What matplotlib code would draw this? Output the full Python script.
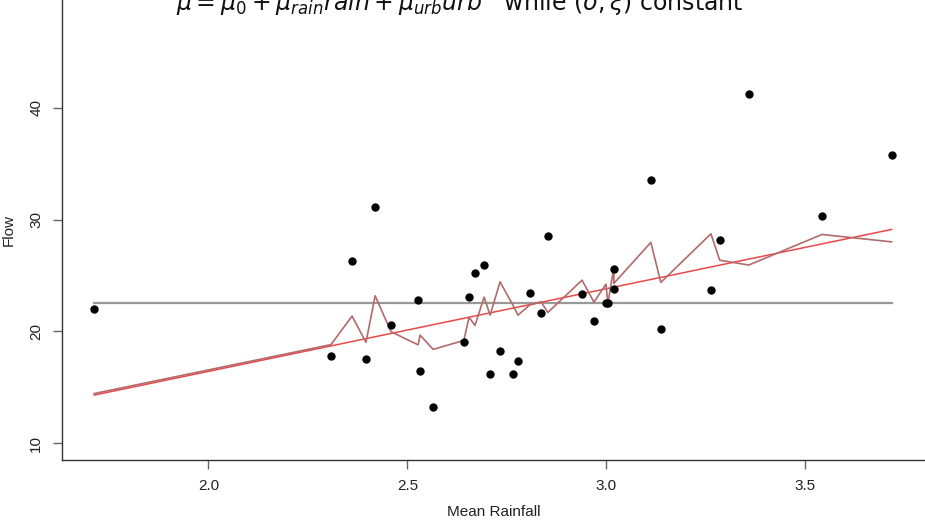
import numpy as np
import matplotlib
matplotlib.use("Agg")
from matplotlib import pyplot as plt

# mean rainfall (sorted) and observed flow
rain = [1.713, 2.308, 2.361, 2.396, 2.419, 2.459, 2.527, 2.532, 2.565, 2.642, 2.655,
        2.670, 2.693, 2.708, 2.733, 2.766, 2.778, 2.808, 2.836, 2.853, 2.939, 2.969,
        2.999, 3.004, 3.019, 3.019, 3.112, 3.137, 3.263, 3.285, 3.358, 3.542, 3.717]
flow = [22.0, 17.79, 26.29, 17.52, 31.13, 20.56, 22.80, 16.45, 13.22, 19.04, 23.07,
        25.22, 25.94, 16.18, 18.24, 16.18, 17.34, 23.43, 21.64, 28.53, 23.34, 20.92,
        22.53, 22.53, 25.58, 23.79, 33.54, 20.21, 23.70, 28.17, 41.24, 30.32, 35.78]

# location fitted with rain + urb, evaluated at each observation
mu_full = [14.43, 18.81, 21.36, 19.01, 23.18, 19.96, 18.79, 19.66, 18.38, 19.19, 21.25,
           20.53, 23.06, 21.45, 24.43, 22.3, 21.45, 22.37, 22.64, 21.69, 24.58, 22.61,
           24.22, 22.5, 25.72, 24.29, 27.96, 24.38, 28.73, 26.37, 25.93, 28.67, 28.01]

# rain-only location line and stationary location
mu_rain_ends = [14.29, 29.12]
mu_const = 22.5

W, H = 925, 523
fig = plt.figure(figsize=(W / 100, H / 100), dpi=100)
ax = fig.add_axes([62 / W, 63 / H, 863 / W, 460 / H])

ax.plot([rain[0], rain[-1]], [mu_const, mu_const], color="#999999", lw=1.6)
ax.plot([rain[0], rain[-1]], mu_rain_ends, color="#e8494a", lw=1.1)
ax.plot(rain, mu_full, color="#b36a6a", lw=1.2)
ax.plot(rain, flow, "o", color="black", ms=5.0, ls="none")

ax.set_xlim(1.632, 3.801)
ax.set_ylim(8.48, 49.66)
ax.set_xticks([2.0, 2.5, 3.0, 3.5])
ax.set_yticks([10, 20, 30, 40])
ax.set_xticklabels(["2.0", "2.5", "3.0", "3.5"])

for s in ["top", "right"]:
    ax.spines[s].set_visible(False)
for s in ["left", "bottom"]:
    ax.spines[s].set_color("#333333")
    ax.spines[s].set_linewidth(1.0)

ax.tick_params(length=6.5, width=1.0, color="#666666", pad=7,
               labelsize=11, labelcolor="#222222")
for lab in ax.get_yticklabels():
    lab.set_rotation(90)
    lab.set_va("center")
for lab in ax.get_xticklabels() + ax.get_yticklabels():
    lab.set_family("Liberation Sans")

ax.set_xlabel("Mean Rainfall", fontsize=11, family="Liberation Sans", color="#222222",
              va="center")
ax.set_ylabel("Flow", fontsize=11, family="Liberation Sans", color="#222222",
              va="center")
ax.xaxis.set_label_coords(0.5, -0.113)
ax.yaxis.set_label_coords(-0.062, 0.5)

fig.text(460 / W, 1 - 10 / H,
         r"$\mu = \mu_0 + \mu_{rain}rain + \mu_{urb}urb$   while $(\sigma, \xi)$ constant",
         ha="center", va="baseline", fontsize=17, color="#111111")

fig.savefig("out.png", dpi=100)
